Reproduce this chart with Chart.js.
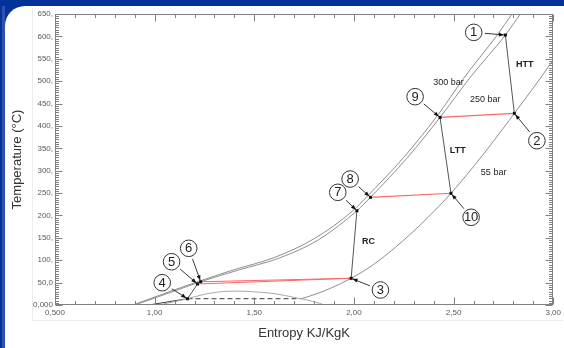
<!DOCTYPE html>
<html>
<head>
<meta charset="utf-8">
<script src="https://cdn.jsdelivr.net/npm/chart.js@4.4.1/dist/chart.umd.min.js"></script>
<style>
  html, body { margin: 0; padding: 0; width: 564px; height: 348px; overflow: hidden; background: #03339a; }
  #edge { position: absolute; left: 2px; top: 6px; width: 3px; height: 342px; background: #2f52ad; }
  #panel { position: absolute; left: 5px; top: 6px; width: 559px; height: 342px; background: #ffffff; border-top-left-radius: 20px; }
  #sheet { position: absolute; left: 32px; top: 8px; width: 530px; height: 312px; border-left: 1px solid #ececec; border-bottom: 1px solid #ececec; }
  #wrap { position: absolute; left: 0; top: 0; width: 564px; height: 348px; }
</style>
</head>
<body>
<div id="edge"></div>
<div id="panel"></div>
<div id="sheet"></div>
<div id="wrap"><canvas id="c" width="564" height="348"></canvas></div>
<script>
// Axis tick labels
const xTickLabels = ['0,500', '1,00', '1,50', '2,00', '2,50', '3,00'];
const yTickLabels = ['0,000', '50,0', '100,', '150,', '200,', '250,', '300,', '350,',
                     '400,', '450,', '500,', '550,', '600,', '650,'];

// Isobars: entropy (kJ/kgK) and temperature (°C)
const s300 = [0.89, 1.045, 1.215, 1.40, 1.60, 1.80, 1.995, 2.062, 2.25, 2.412, 2.56, 2.719, 2.793];
const t300 = [0, 25, 52, 79, 106, 148, 210.6, 240.5, 330, 419, 512, 603, 650];
const s250 = [0.90, 1.06, 1.231, 1.42, 1.62, 1.82, 2.015, 2.083, 2.27, 2.432, 2.59, 2.76, 2.835];
const t250 = [0, 25, 52, 78, 104, 145, 210.6, 240.5, 330, 419, 512, 603, 650];
const s55 = [1.735, 1.80, 1.88, 1.986, 2.10, 2.245, 2.37, 2.487, 2.65, 2.805, 2.90, 3.00];
const t55 = [14, 23, 37, 59.6, 91, 143, 195, 249.5, 337, 428, 485, 547];

// Saturation dome, subcooled liquid and two-phase line at 55 bar
const sDome = [1.02, 1.165, 1.25, 1.33, 1.40, 1.48, 1.60, 1.70, 1.735, 1.80, 1.853];
const tDome = [0, 14, 24, 29.5, 31, 30, 25.5, 17, 14, 7.5, 0];
const sLiquid = [0.97, 1.165];
const tLiquid = [0, 14];
const sTwoPhase = [1.165, 1.735];
const tTwoPhase = [14, 14];

// Cycle state points 1..10
const stateNames = ['1', '2', '3', '4', '5', '6', '7', '8', '9', '10'];
const stateS = [2.76, 2.805, 1.986, 1.165, 1.215, 1.231, 2.015, 2.083, 2.432, 2.487];
const stateT = [603, 428, 59.6, 14, 47, 52, 210.6, 240.5, 419, 249.5];

// Turbines / compressors (state index pairs) and recuperator heat exchange
const machines = [[1, 2], [9, 10], [3, 7], [4, 5]];
const exchangers = [[9, 2], [8, 10], [6, 3], [5, 3]];

// Callout anchors (entropy, temperature) for the numbered circles
const callouts = {
  s: [2.601, 2.918, 2.133, 1.038, 1.085, 1.171, 1.919, 1.981, 2.307, 2.588],
  t: [609, 367, 33.5, 49.8, 96.7, 126.6, 251.7, 281.4, 465.3, 195.9]
};
// Text notes
const notes = [
  { text: 'HTT', s: 2.857, t: 537.6, bold: true },
  { text: 'LTT', s: 2.521, t: 344.7, bold: true },
  { text: 'RC', s: 2.073, t: 141.4, bold: true },
  { text: '300 bar', s: 2.474, t: 498, bold: false },
  { text: '250 bar', s: 2.659, t: 459.5, bold: false },
  { text: '55 bar', s: 2.701, t: 295.5, bold: false }
];

const pts = (xs, ys) => xs.map((x, i) => ({ x: x, y: ys[i] }));
const curve = (xs, ys, color, width, dash) => ({
  data: pts(xs, ys), borderColor: color, borderWidth: width, borderDash: dash || [],
  pointRadius: 0, showLine: true, fill: false, cubicInterpolationMode: 'monotone'
});
const segment = (a, b, color, width) => ({
  data: [{ x: stateS[a - 1], y: stateT[a - 1] }, { x: stateS[b - 1], y: stateT[b - 1] }],
  borderColor: color, borderWidth: width, pointRadius: 0, showLine: true, fill: false, tension: 0
});

const datasets = [
  curve(sDome, tDome, '#a8a8a8', 1),
  curve(s300, t300, '#8e8e8e', 1),
  curve(s250, t250, '#8e8e8e', 1),
  curve(s55, t55, '#8e8e8e', 1),
  curve(sLiquid, tLiquid, '#3a3a3a', 1),
  curve(sTwoPhase, tTwoPhase, '#3a3a3a', 1, [5, 3]),
  ...exchangers.map(p => segment(p[0], p[1], '#ff6666', 1.1)),
  ...machines.map(p => segment(p[0], p[1], '#555555', 1))
];

const FONT = "'Liberation Sans', Arial, sans-serif";

// Boxed axes with inward major/minor ticks, state markers and callouts
const decorations = {
  id: 'decorations',
  afterDatasetsDraw(chart) {
    const { ctx, chartArea: a, scales: { x, y } } = chart;
    const L = Math.round(a.left) + 0.5, R = Math.round(a.right) - 0.5;
    const T = Math.round(a.top) + 0.5, B = Math.round(a.bottom) - 0.5;
    ctx.save();
    ctx.strokeStyle = '#808080';
    ctx.lineWidth = 1;
    ctx.strokeRect(L, T, R - L, B - T);
    ctx.beginPath();
    for (let k = 0; k <= 25; k++) {
      const px = Math.round(x.getPixelForValue(0.5 + k * 0.1)) + 0.5;
      const len = k % 5 === 0 ? 7 : 3.5;
      ctx.moveTo(px, B); ctx.lineTo(px, B - len);
      ctx.moveTo(px, T); ctx.lineTo(px, T + len);
    }
    for (let k = 0; k <= 130; k++) {
      const py = Math.round(y.getPixelForValue(k * 5)) + 0.5;
      const len = k % 10 === 0 ? 7 : 3.5;
      ctx.moveTo(L, py); ctx.lineTo(L + len, py);
      ctx.moveTo(R, py); ctx.lineTo(R - len, py);
    }
    ctx.stroke();

    // callout arrows and circled numbers
    const r = 8.3;
    stateNames.forEach((name, i) => {
      const px = x.getPixelForValue(stateS[i]), py = y.getPixelForValue(stateT[i]);
      const cx = x.getPixelForValue(callouts.s[i]), cy = y.getPixelForValue(callouts.t[i]);
      const dx = px - cx, dy = py - cy, d = Math.hypot(dx, dy);
      const ux = dx / d, uy = dy / d;
      const sx = cx + ux * (r + 3), sy = cy + uy * (r + 3);
      const ex = px - ux * 1.5, ey = py - uy * 1.5;
      ctx.strokeStyle = '#222';
      ctx.lineWidth = 0.9;
      ctx.beginPath(); ctx.moveTo(sx, sy); ctx.lineTo(ex, ey); ctx.stroke();
      ctx.fillStyle = '#111';
      ctx.beginPath();
      ctx.moveTo(ex, ey);
      ctx.lineTo(ex - ux * 5 - uy * 2, ey - uy * 5 + ux * 2);
      ctx.lineTo(ex - ux * 5 + uy * 2, ey - uy * 5 - ux * 2);
      ctx.closePath(); ctx.fill();
      ctx.fillRect(px - 1.5, py - 1.5, 3, 3);

      ctx.beginPath();
      ctx.arc(cx, cy, r, 0, Math.PI * 2);
      ctx.fillStyle = '#fff'; ctx.fill();
      ctx.strokeStyle = '#333'; ctx.lineWidth = 1; ctx.stroke();
      ctx.fillStyle = '#222';
      ctx.font = '13px ' + FONT;
      ctx.textAlign = 'center'; ctx.textBaseline = 'middle';
      ctx.fillText(name, cx, cy + 0.5);
    });

    notes.forEach(n => {
      ctx.font = (n.bold ? 'bold ' : '') + '9px ' + FONT;
      ctx.fillStyle = '#222';
      ctx.textAlign = 'center'; ctx.textBaseline = 'middle';
      ctx.fillText(n.text, x.getPixelForValue(n.s), y.getPixelForValue(n.t));
    });
    ctx.restore();
  }
};

new Chart(document.getElementById('c'), {
  type: 'scatter',
  data: { datasets: datasets },
  plugins: [decorations],
  options: {
    responsive: false,
    devicePixelRatio: 1,
    animation: false,
    layout: { padding: { left: 5, top: 14, right: 10, bottom: 5 } },
    plugins: { legend: { display: false }, tooltip: { enabled: false } },
    scales: {
      x: {
        type: 'linear', min: 0.5, max: 3.0,
        grid: { display: false, drawTicks: false },
        border: { display: false },
        ticks: {
          stepSize: 0.5, autoSkip: false, maxRotation: 0, padding: 3,
          font: { family: FONT, size: 8 }, color: '#5a5a5a',
          callback: v => xTickLabels[Math.round((v - 0.5) / 0.5)]
        },
        title: {
          display: true, text: 'Entropy KJ/KgK', color: '#333',
          font: { family: FONT, size: 13 }, padding: { top: 0, bottom: 2 }
        },
        afterFit: s => { s.height = 38; }
      },
      y: {
        type: 'linear', min: 0, max: 650,
        grid: { display: false, drawTicks: false },
        border: { display: false },
        ticks: {
          stepSize: 50, autoSkip: false, padding: 2,
          font: { family: FONT, size: 8 }, color: '#5a5a5a',
          callback: v => yTickLabels[Math.round(v / 50)]
        },
        title: {
          display: true, text: 'Temperature (°C)', color: '#333',
          font: { family: FONT, size: 13 }, padding: { top: 5, bottom: 4 }
        },
        afterFit: s => { s.width = 50; }
      }
    }
  }
});
</script>
</body>
</html>
